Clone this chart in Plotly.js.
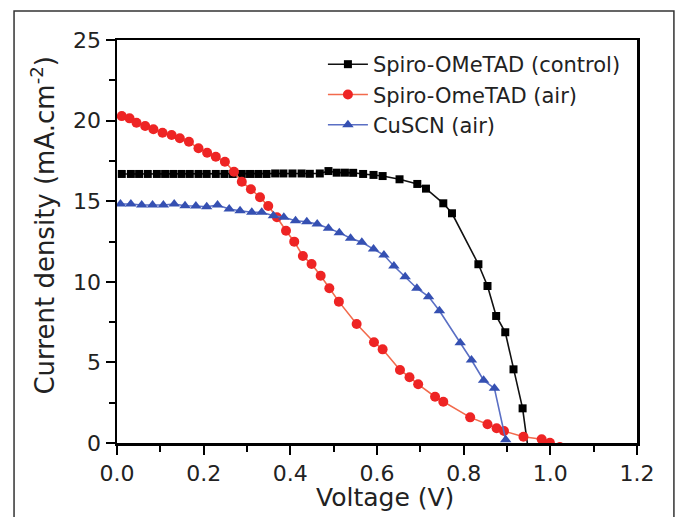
<!DOCTYPE html>
<html>
<head>
<meta charset="utf-8">
<script src="https://cdn.plot.ly/plotly-3.0.1.min.js"></script>
<style>
html,body{margin:0;padding:0;background:#fff;}
#chart{width:678px;height:517px;}
</style>
</head>
<body>
<div id="chart"></div>
<script>
// Spiro-OMeTAD (control)
const controlV = [0.011,0.032,0.051,0.071,0.092,0.111,0.130,0.149,0.168,0.188,0.207,0.228,0.248,0.267,0.288,0.307,0.326,0.345,0.365,0.384,0.405,0.426,0.445,0.468,0.488,0.507,0.526,0.545,0.568,0.592,0.613,0.652,0.693,0.713,0.753,0.773,0.834,0.855,0.875,0.896,0.915,0.936,0.957];
const controlJ = [16.69,16.69,16.69,16.69,16.69,16.69,16.69,16.69,16.69,16.69,16.69,16.69,16.69,16.69,16.69,16.69,16.69,16.69,16.72,16.72,16.72,16.72,16.70,16.72,16.87,16.77,16.77,16.76,16.69,16.63,16.56,16.36,16.07,15.78,14.87,14.25,11.09,9.74,7.88,6.87,4.57,2.15,-2.0];
// Spiro-OmeTAD (air)
const airV = [0.011,0.029,0.045,0.065,0.084,0.105,0.126,0.145,0.166,0.188,0.208,0.228,0.249,0.270,0.288,0.309,0.330,0.349,0.369,0.390,0.409,0.429,0.449,0.470,0.490,0.512,0.553,0.593,0.613,0.653,0.675,0.695,0.734,0.753,0.815,0.855,0.876,0.893,0.938,0.980,0.999,1.022];
const airJ = [20.28,20.14,19.87,19.67,19.46,19.25,19.11,18.90,18.69,18.28,18.01,17.76,17.45,16.83,16.21,15.74,15.24,14.70,14.00,13.17,12.49,11.60,11.10,10.38,9.60,8.77,7.38,6.25,5.81,4.53,4.08,3.64,2.87,2.56,1.59,1.16,0.91,0.74,0.39,0.23,0.02,-0.25];
// CuSCN (air)
const cuscnV = [0.008,0.032,0.057,0.082,0.107,0.132,0.157,0.182,0.207,0.232,0.259,0.284,0.311,0.334,0.361,0.385,0.412,0.438,0.462,0.488,0.513,0.539,0.565,0.592,0.616,0.639,0.665,0.692,0.719,0.744,0.792,0.818,0.846,0.871,0.897];
const cuscnJ = [14.83,14.83,14.76,14.76,14.76,14.83,14.72,14.70,14.66,14.76,14.52,14.41,14.31,14.31,14.10,14.00,13.79,13.73,13.59,13.32,13.05,12.70,12.45,12.03,11.66,10.98,10.32,9.60,9.08,8.20,6.22,5.15,3.90,3.39,0.20];

const seriesNames = ['Spiro-OMeTAD (control)','Spiro-OmeTAD (air)','CuSCN (air)'];
const xTickVals = [0,0.2,0.4,0.6,0.8,1.0,1.2];
const xTickText = ['0.0','0.2','0.4','0.6','0.8','1.0','1.2'];
const yTickVals = [0,5,10,15,20,25];
const xTitle = 'Voltage (V)';
const yTitle = 'Current density (mA.cm<sup>-2</sup>)';

const FONT = 'DejaVu Sans, sans-serif';

const traces = [
  {x: controlV, y: controlJ, name: seriesNames[0], mode: 'lines+markers',
   line: {color: '#111111', width: 1.6},
   marker: {symbol: 'square', size: 8, color: '#000000'}},
  {x: airV, y: airJ, name: seriesNames[1], mode: 'lines+markers',
   line: {color: '#f26a4c', width: 1.6},
   marker: {symbol: 'circle', size: 10, color: '#ee2424'}},
  {x: cuscnV, y: cuscnJ, name: seriesNames[2], mode: 'lines+markers',
   line: {color: '#5a6fc4', width: 1.6},
   marker: {symbol: 'triangle-up', size: 10, color: '#3550b2'}}
];

const axisCommon = {
  showgrid: false, zeroline: false, showline: true, linecolor: '#000', linewidth: 2.5,
  mirror: true, ticks: 'outside', ticklen: 9, tickwidth: 2, tickcolor: '#000',
  tickfont: {family: FONT, size: 22, color: '#222'}
};

const layout = {
  width: 678, height: 517,
  margin: {l: 117, r: 41, t: 40, b: 74, pad: 0},
  paper_bgcolor: '#fff', plot_bgcolor: '#fff',
  showlegend: true,
  legend: {x: 0.396, y: 0.99, xanchor: 'left', yanchor: 'top', bgcolor: 'rgba(0,0,0,0)',
           font: {family: FONT, size: 21, color: '#222'}, itemwidth: 40, tracegroupgap: 0},
  xaxis: Object.assign({}, axisCommon, {
    range: [0, 1.2], tickvals: xTickVals, ticktext: xTickText,
    minor: {dtick: 0.1, ticklen: 6, tickwidth: 2, tickcolor: '#000', ticks: 'outside'}
  }),
  yaxis: Object.assign({}, axisCommon, {
    range: [0, 25], tickvals: yTickVals,
    minor: {dtick: 2.5, ticklen: 6, tickwidth: 2, tickcolor: '#000', ticks: 'outside'}
  }),
  annotations: [
    {text: xTitle, xref: 'paper', yref: 'paper', x: 0.515, y: -0.134, xanchor: 'center', yanchor: 'middle',
     showarrow: false, font: {family: FONT, size: 25, color: '#222'}},
    {text: yTitle, xref: 'paper', yref: 'paper', x: -0.142, y: 0.54, xanchor: 'center', yanchor: 'middle',
     textangle: -90, showarrow: false, font: {family: FONT, size: 26, color: '#222'}}
  ],
  shapes: [
    {type: 'rect', xref: 'paper', yref: 'paper', x0: -0.198, x1: 1.071, y0: -0.3, y1: 1.072,
     line: {color: '#333', width: 1.5}, fillcolor: 'rgba(0,0,0,0)', layer: 'below'}
  ]
};

Plotly.newPlot('chart', traces, layout, {displayModeBar: false, staticPlot: true});
</script>
</body>
</html>
